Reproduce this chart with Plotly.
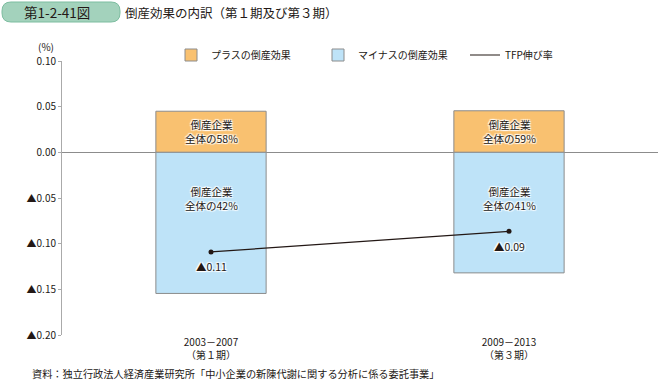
import plotly.graph_objects as go

categories = ["2003－2007<br>（第１期）", "2009－2013<br>（第３期）"]
plus_effect = [0.045, 0.0455]
minus_effect = [-0.1545, -0.132]
tfp_growth = [-0.109, -0.0865]
plus_labels = ["倒産企業<br>全体の58%", "倒産企業<br>全体の59%"]
minus_labels = ["倒産企業<br>全体の42%", "倒産企業<br>全体の41%"]
tfp_labels = ["▲0.11", "▲0.09"]
ytick_vals = [0.10, 0.05, 0.0, -0.05, -0.10, -0.15, -0.20]
ytick_text = ["0.10", "0.05", "0.00", "▲0.05", "▲0.10", "▲0.15", "▲0.20"]

FONT = "Noto Sans CJK JP"
halo = "1px 1px 1px white, -1px -1px 1px white, 1px -1px 1px white, -1px 1px 1px white"

W, H = 660, 381
ML, MR, MT, MB = 62, 2, 61, 46
PW, PH = W - ML - MR, H - MT - MB


def px(x):
    return (x - ML) / PW


def py(y):
    return 1 + (MT - y) / PH


fig = go.Figure()
fig.add_trace(go.Bar(x=categories, y=plus_effect, name="プラスの倒産効果", width=0.37,
                     marker=dict(color="#F9C170", line=dict(color="#8C8C8C", width=1))))
fig.add_trace(go.Bar(x=categories, y=minus_effect, name="マイナスの倒産効果", width=0.37,
                     marker=dict(color="#BEE3F8", line=dict(color="#8C8C8C", width=1))))
fig.add_trace(go.Scatter(x=categories, y=tfp_growth, name="TFP伸び率", mode="lines+markers",
                         line=dict(color="#231815", width=1.2), showlegend=False,
                         marker=dict(size=5, color="#231815")))
# legend entry for the line (line only, as in the reference)
fig.add_trace(go.Scatter(x=[None], y=[None], name="TFP伸び率", mode="lines",
                         line=dict(color="#231815", width=1.2)))

for i, c in enumerate(categories):
    fig.add_annotation(x=c, y=plus_effect[i] / 2, text=plus_labels[i], showarrow=False,
                       font=dict(family=FONT, size=10.5, color="#231815", shadow=halo))
    fig.add_annotation(x=c, y=-0.05, text=minus_labels[i], showarrow=False,
                       font=dict(family=FONT, size=10.5, color="#231815", shadow=halo))
    fig.add_annotation(x=c, y=tfp_growth[i], text=tfp_labels[i], showarrow=False, yshift=-15,
                       font=dict(family=FONT, size=10.5, color="#231815", shadow=halo))

# title banner (rounded)
x0, x1, y0, y1 = px(2), px(120), py(2), py(22)
rx, ry = 9 / PW, 9 / PH
path = (f"M {x0+rx},{y0} L {x1-rx},{y0} Q {x1},{y0} {x1},{y0-ry} L {x1},{y1+ry} "
        f"Q {x1},{y1} {x1-rx},{y1} L {x0+rx},{y1} Q {x0},{y1} {x0},{y1+ry} "
        f"L {x0},{y0-ry} Q {x0},{y0} {x0+rx},{y0} Z")
fig.add_shape(type="path", xref="paper", yref="paper", path=path,
              fillcolor="#A3D2BC", line=dict(color="#7DBDA0", width=1), layer="above")
fig.add_annotation(xref="paper", yref="paper", x=px(57), y=py(12), text="第1-2-41図", showarrow=False,
                   xanchor="center", yanchor="middle",
                   font=dict(family=FONT, size=13.5, color="#231815"))
fig.add_annotation(xref="paper", yref="paper", x=px(123), y=py(12), text="倒産効果の内訳（第１期及び第３期）",
                   showarrow=False, xanchor="left", yanchor="middle",
                   font=dict(family=FONT, size=12.5, color="#231815"))
fig.add_annotation(xref="paper", yref="paper", x=px(56), y=py(46), text="(%)", showarrow=False,
                   xanchor="right", yanchor="middle",
                   font=dict(family=FONT, size=10, color="#231815"))
fig.add_annotation(xref="paper", yref="paper", x=px(30), y=py(373),
                   text="資料：独立行政法人経済産業研究所「中小企業の新陳代謝に関する分析に係る委託事業」",
                   showarrow=False, xanchor="left", yanchor="middle",
                   font=dict(family=FONT, size=10.2, color="#231815"))

fig.update_layout(
    width=W, height=H,
    margin=dict(l=ML, r=MR, t=MT, b=MB, autoexpand=False),
    paper_bgcolor="white", plot_bgcolor="white",
    barmode="relative",
    font=dict(family=FONT, size=10, color="#231815"),
    showlegend=True,
    legend=dict(orientation="h", x=px(171), y=py(55), xanchor="left", yanchor="middle",
                font=dict(family=FONT, size=10), itemwidth=30, tracegroupgap=0,
                entrywidth=102, entrywidthmode="pixels", traceorder="normal",
                bgcolor="rgba(0,0,0,0)"),
    xaxis=dict(range=[-0.5, 1.5], showline=False, showgrid=False, ticks="",
               tickfont=dict(family=FONT, size=10), zeroline=False),
    yaxis=dict(range=[-0.2, 0.1], tickvals=ytick_vals, ticktext=ytick_text,
               showgrid=False, zeroline=True, zerolinecolor="#8C8C8C", zerolinewidth=1,
               showline=True, linecolor="#AAAAAA", linewidth=1,
               ticks="outside", ticklen=3, tickcolor="#AAAAAA",
               tickfont=dict(family=FONT, size=10)),
)

fig.write_html("out.html", config={"displayModeBar": False},
               post_script="document.body.style.margin='0px';")
